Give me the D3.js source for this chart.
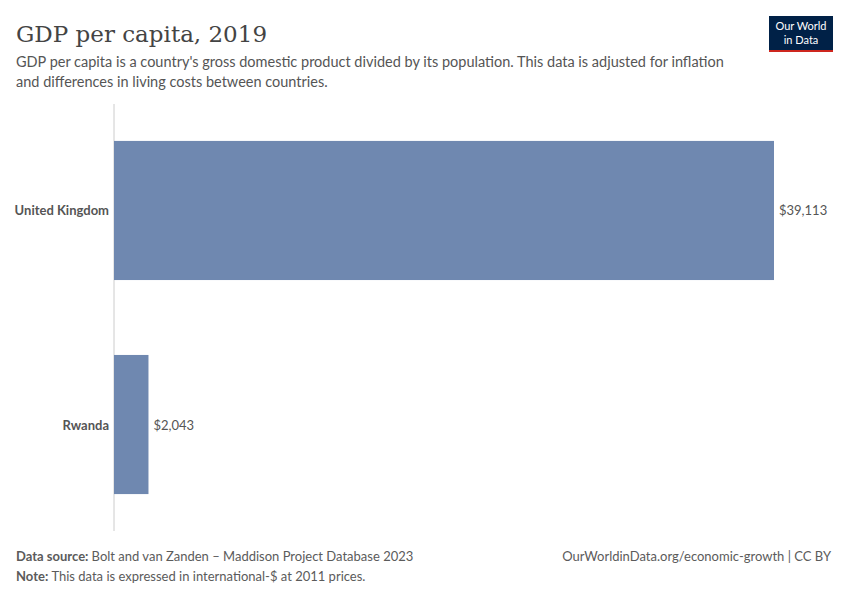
<!DOCTYPE html>
<html><head><meta charset="utf-8">
<script src="https://cdn.jsdelivr.net/npm/d3@7"></script>
<style>body{margin:0;background:#fff}text{font-family:Lato,"Open Sans",sans-serif}</style>
</head><body><svg id="c" width="850" height="600"></svg>
<script>
const categories=["United Kingdom","Rwanda"];
const values=[39113,2043];
const labels=["$39,113","$2,043"];
const svg=d3.select("#c");
const x=d3.scaleLinear().domain([0,39113]).range([114,774]);
const y=d3.scaleBand().domain(categories).range([104,531]).paddingInner(0.35).paddingOuter(0.1725);
svg.append("text").attr("x",16).attr("y",42).attr("font-size",23).attr("fill","#444")
 .style("font-family","'DejaVu Serif','Liberation Serif',serif").text("GDP per capita, 2019");
const sub=["GDP per capita is a country's gross domestic product divided by its population. This data is adjusted for inflation","and differences in living costs between countries."];
sub.forEach((s,i)=>svg.append("text").attr("x",16).attr("y",67+i*20).attr("font-size",14.5).attr("fill","#555").text(s));
svg.append("rect").attr("x",769).attr("y",16).attr("width",64).attr("height",34).attr("fill","#002147");
svg.append("rect").attr("x",769).attr("y",50).attr("width",64).attr("height",2).attr("fill","#ce261e");
svg.append("text").attr("x",801).attr("y",30).attr("text-anchor","middle").attr("font-size",11).attr("fill","#fff").text("Our World");
svg.append("text").attr("x",801).attr("y",44).attr("text-anchor","middle").attr("font-size",11).attr("fill","#fff").text("in Data");
svg.append("line").attr("x1",114).attr("x2",114).attr("y1",104).attr("y2",531).attr("stroke","#ccc");
svg.selectAll("rect.bar").data(values).join("rect").attr("class","bar")
 .attr("x",x(0)).attr("y",(d,i)=>y(categories[i])).attr("width",d=>x(d)-x(0)).attr("height",y.bandwidth()).attr("fill","#6f88b0");
svg.selectAll("text.val").data(values).join("text").attr("class","val")
 .attr("x",d=>x(d)+5).attr("y",(d,i)=>y(categories[i])+y.bandwidth()/2+5).attr("font-size",13).attr("fill","#555").text((d,i)=>labels[i]);
svg.selectAll("text.cat").data(categories).join("text").attr("class","cat")
 .attr("x",109).attr("y",d=>y(d)+y.bandwidth()/2+5).attr("text-anchor","end").attr("font-size",13).attr("font-weight","bold").attr("fill","#555").text(d=>d);
const f1=svg.append("text").attr("x",16).attr("y",561).attr("font-size",13).attr("fill","#5b5b5b");
f1.append("tspan").attr("font-weight","bold").text("Data source: ");
f1.append("tspan").text("Bolt and van Zanden – Maddison Project Database 2023");
const f2=svg.append("text").attr("x",16).attr("y",581).attr("font-size",13).attr("fill","#5b5b5b");
f2.append("tspan").attr("font-weight","bold").text("Note: ");
f2.append("tspan").text("This data is expressed in international-$ at 2011 prices.");
svg.append("text").attr("x",831).attr("y",561).attr("text-anchor","end").attr("font-size",13).attr("fill","#5b5b5b").text("OurWorldinData.org/economic-growth | CC BY");
</script></body></html>
